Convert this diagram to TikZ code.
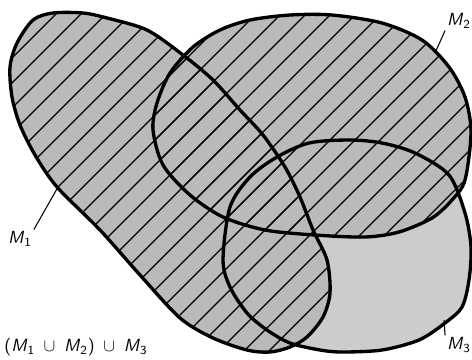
\documentclass[tikz,border=0pt]{standalone}
\usepackage{tikz}
\usetikzlibrary{positioning}
\newcommand{\Mone}{plot[smooth cycle] coordinates {(10,67) (17,43) (33,20) (53,13) (83,13) (107,18) (147,30) (183,55) (213,80) (240,110) (263,135) (285,167) (300,197) (313,230) (327,260) (330,293) (323,317) (307,337) (290,347) (270,352) (247,350) (213,338) (180,318) (140,275) (100,230) (57,187) (35,155) (20,125) (12,97)}}
\newcommand{\Mtwo}{plot[smooth cycle] coordinates {(153,130) (157,103) (170,73) (193,47) (220,30) (250,20) (290,15) (332,15) (382,23) (422,40) (449,67) (465,97) (471,132) (465,180) (452,200) (432,218) (399,232) (365,237) (315,235) (265,230) (223,217) (190,195) (163,165)}}
\newcommand{\Mthree}{plot[smooth cycle] coordinates {(223,260) (230,287) (247,313) (267,330) (290,343) (320,350) (342,352) (382,350) (419,340) (445,323) (462,307) (469,280) (471,247) (465,213) (449,175) (415,153) (382,143) (349,140) (309,143) (277,157) (250,177) (230,207)}}
\newcommand{\setname}[1]{\textit{M}\textsubscript{#1}}
\begin{document}
\begin{tikzpicture}[
    x=0.02cm, y=-0.02cm,
    basetone/.style={fill=black!20},
    uniontone/.style={fill=black!27},
    hatch/.style={black, line width=0.65pt},
    border/.style={draw=black, line width=1.9pt},
    leader/.style={black, line width=0.6pt},
    setlbl/.style={font=\sffamily, inner sep=1pt}
  ]
    \useasboundingbox (0,0) rectangle (472,359);

    % grey ground of the whole union
    \fill[basetone] \Mthree;
    \fill[uniontone] \Mone;
    \fill[uniontone] \Mtwo;

    % hatching of M1 u M2
    \begin{scope}
      \clip \Mone;
      \foreach \c in {20,45,...,745}
        \draw[hatch] (\c-400,400) -- (\c+100,-100);
    \end{scope}
    \begin{scope}
      \clip \Mtwo;
      \foreach \c in {20,45,...,745}
        \draw[hatch] (\c-400,400) -- (\c+100,-100);
    \end{scope}

    \draw[border] \Mthree;
    \draw[border] \Mtwo;
    \draw[border] \Mone;

    % labels
    \node[setlbl] (m1lbl) at (20,239) {\setname{1}};
    \node[setlbl] (m2lbl) at (459,21) {\setname{2}};
    \node[setlbl] (m3lbl) at (459,345) {\setname{3}};
    \node[setlbl] (result) at (76,347) {(\setname{1} \,$\cup$\, \setname{2}) \,$\cup$\, \setname{3}};

    \coordinate (m1tip) at (58,187);
    \coordinate (m2tip) at (435,53);
    \coordinate (m3tip) at (444,320);
    \draw[leader] (m1tip) -- (m1lbl.north east);
    \draw[leader] (m2tip) -- (m2lbl.south west);
    \draw[leader] (m3tip) -- (m3lbl.north west);
\end{tikzpicture}
\end{document}
